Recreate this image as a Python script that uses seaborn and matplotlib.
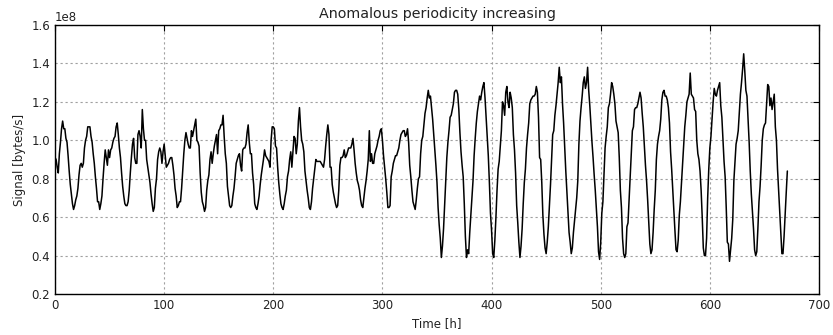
import numpy as np
import pandas as pd
import matplotlib
matplotlib.use("Agg")
import matplotlib.pyplot as plt
import seaborn as sns

# Signal in units of 1e8 bytes/s, one value per hour
signal_first_half = [  # hours 0-335
    0.91, 0.90, 0.86, 0.83, 0.93, 0.99, 1.06, 1.10, 1.06, 1.06,
    1.01, 0.99, 0.92, 0.84, 0.77, 0.72, 0.67, 0.64, 0.66, 0.69,
    0.71, 0.75, 0.82, 0.87, 0.88, 0.86, 0.88, 0.96, 1.00, 1.02,
    1.07, 1.07, 1.07, 1.02, 0.99, 0.93, 0.88, 0.81, 0.75, 0.68,
    0.68, 0.64, 0.67, 0.71, 0.80, 0.88, 0.95, 0.91, 0.87, 0.95,
    0.91, 0.95, 0.96, 0.99, 1.01, 1.02, 1.07, 1.09, 1.03, 0.96,
    0.91, 0.83, 0.76, 0.71, 0.67, 0.66, 0.66, 0.68, 0.74, 0.83,
    0.91, 0.98, 1.01, 0.91, 0.88, 0.88, 1.03, 1.05, 1.02, 0.96,
    1.16, 1.06, 1.00, 1.00, 0.90, 0.86, 0.82, 0.78, 0.72, 0.67,
    0.63, 0.65, 0.75, 0.80, 0.90, 0.94, 0.96, 0.94, 0.88, 0.94,
    0.98, 0.92, 0.86, 0.87, 0.88, 0.90, 0.91, 0.91, 0.87, 0.82,
    0.75, 0.71, 0.65, 0.66, 0.68, 0.68, 0.75, 0.84, 0.93, 1.00,
    1.04, 1.01, 0.98, 0.96, 0.96, 1.05, 1.02, 1.05, 1.08, 1.11,
    1.00, 0.99, 0.97, 0.83, 0.73, 0.68, 0.66, 0.63, 0.65, 0.74,
    0.79, 0.82, 0.90, 0.94, 0.88, 0.93, 0.97, 1.00, 1.03, 0.93,
    1.05, 1.06, 1.08, 1.08, 1.13, 1.02, 0.93, 0.88, 0.76, 0.71,
    0.66, 0.65, 0.66, 0.71, 0.75, 0.81, 0.88, 0.90, 0.92, 0.93,
    0.87, 0.84, 0.95, 0.96, 0.96, 0.98, 1.04, 1.08, 0.99, 0.93,
    0.93, 0.83, 0.77, 0.67, 0.65, 0.64, 0.67, 0.71, 0.77, 0.82,
    0.86, 0.90, 0.95, 0.92, 0.91, 0.90, 0.89, 0.86, 1.00, 1.07,
    1.07, 1.06, 0.97, 0.96, 0.86, 0.78, 0.72, 0.67, 0.65, 0.64,
    0.67, 0.71, 0.74, 0.81, 0.84, 0.90, 0.94, 0.86, 0.94, 1.02,
    1.01, 0.93, 0.98, 1.10, 1.17, 1.07, 1.00, 0.98, 0.94, 0.84,
    0.79, 0.74, 0.70, 0.65, 0.64, 0.68, 0.75, 0.80, 0.85, 0.90,
    0.89, 0.89, 0.89, 0.89, 0.88, 0.87, 0.86, 0.90, 0.97, 1.03,
    1.08, 1.03, 0.86, 0.86, 0.77, 0.73, 0.70, 0.67, 0.65, 0.66,
    0.74, 0.87, 0.91, 0.91, 0.92, 0.95, 0.91, 0.92, 0.94, 0.96,
    0.96, 0.96, 0.98, 1.01, 0.95, 0.88, 0.83, 0.79, 0.77, 0.74,
    0.69, 0.66, 0.65, 0.70, 0.75, 0.79, 0.84, 0.90, 1.05, 0.89,
    0.93, 0.88, 0.88, 0.93, 0.95, 0.97, 1.00, 1.02, 1.05, 1.06,
    1.00, 0.92, 0.86, 0.80, 0.73, 0.65, 0.65, 0.66, 0.81, 0.84,
    0.88, 0.90, 0.92, 0.92, 0.94, 0.96, 1.00, 1.03, 1.04, 1.05,
    1.05, 1.02, 1.03, 1.06, 0.99, 0.87, 0.81, 0.74, 0.68, 0.66,
    0.64, 0.69, 0.75, 0.80, 0.81, 0.93,
]
signal_second_half = [  # hours 336-671
    1.00, 1.02, 1.08, 1.14,
    1.17, 1.22, 1.26, 1.22, 1.23, 1.17, 1.11, 1.03, 0.95, 0.87,
    0.78, 0.65, 0.56, 0.49, 0.39, 0.45, 0.54, 0.66, 0.79, 0.91,
    0.99, 1.05, 1.12, 1.13, 1.16, 1.19, 1.25, 1.26, 1.26, 1.24,
    1.16, 1.04, 0.94, 0.87, 0.81, 0.67, 0.50, 0.39, 0.43, 0.41,
    0.52, 0.61, 0.70, 0.79, 0.92, 1.01, 1.09, 1.15, 1.19, 1.23,
    1.21, 1.25, 1.28, 1.30, 1.22, 1.12, 1.03, 0.92, 0.78, 0.62,
    0.53, 0.41, 0.39, 0.48, 0.60, 0.74, 0.85, 0.89, 0.97, 1.05,
    1.20, 1.18, 1.13, 1.25, 1.28, 1.20, 1.17, 1.25, 1.22, 1.17,
    1.03, 0.95, 0.83, 0.66, 0.57, 0.47, 0.39, 0.45, 0.54, 0.67,
    0.78, 0.85, 0.96, 1.03, 1.09, 1.19, 1.21, 1.22, 1.23, 1.23,
    1.24, 1.28, 1.25, 1.12, 0.91, 0.90, 0.78, 0.61, 0.51, 0.44,
    0.41, 0.47, 0.55, 0.66, 0.77, 0.90, 1.03, 1.05, 1.13, 1.18,
    1.24, 1.30, 1.38, 1.30, 1.33, 1.19, 1.09, 0.96, 0.84, 0.73,
    0.63, 0.52, 0.47, 0.41, 0.44, 0.52, 0.58, 0.64, 0.70, 0.79,
    0.98, 1.10, 1.17, 1.23, 1.30, 1.33, 1.27, 1.30, 1.38, 1.26,
    1.18, 1.08, 0.99, 0.91, 0.82, 0.74, 0.64, 0.55, 0.42, 0.38,
    0.47, 0.62, 0.68, 0.82, 0.96, 1.02, 1.07, 1.17, 1.19, 1.24,
    1.30, 1.28, 1.24, 1.19, 1.10, 1.07, 1.04, 0.91, 0.74, 0.65,
    0.49, 0.41, 0.39, 0.41, 0.55, 0.57, 0.69, 0.80, 0.94, 1.05,
    1.07, 1.16, 1.17, 1.17, 1.19, 1.22, 1.25, 1.22, 1.14, 1.07,
    0.97, 0.87, 0.79, 0.69, 0.57, 0.46, 0.41, 0.43, 0.52, 0.64,
    0.74, 0.90, 0.98, 1.02, 1.05, 1.11, 1.21, 1.25, 1.26, 1.23,
    1.23, 1.21, 1.17, 1.09, 0.94, 0.85, 0.74, 0.63, 0.53, 0.43,
    0.42, 0.48, 0.61, 0.68, 0.78, 0.88, 0.99, 1.07, 1.13, 1.20,
    1.22, 1.24, 1.35, 1.24, 1.23, 1.22, 1.16, 1.15, 1.00, 0.93,
    0.90, 0.84, 0.74, 0.60, 0.44, 0.40, 0.40, 0.49, 0.70, 0.85,
    0.96, 1.02, 1.11, 1.20, 1.27, 1.24, 1.23, 1.26, 1.28, 1.30,
    1.18, 1.12, 1.00, 0.89, 0.81, 0.65, 0.47, 0.46, 0.37, 0.43,
    0.49, 0.59, 0.79, 0.89, 0.98, 1.01, 1.05, 1.15, 1.24, 1.30,
    1.37, 1.45, 1.36, 1.26, 1.23, 1.11, 0.99, 0.84, 0.72, 0.63,
    0.54, 0.43, 0.40, 0.42, 0.54, 0.68, 0.76, 0.87, 1.00, 1.06,
    1.08, 1.09, 1.19, 1.29, 1.28, 1.18, 1.22, 1.16, 1.20, 1.24,
    1.07, 1.00, 0.85, 0.74, 0.64, 0.51, 0.41, 0.41, 0.50, 0.62,
    0.73, 0.84,
]

x_ticks = [0, 100, 200, 300, 400, 500, 600, 700]
y_ticks = [0.2, 0.4, 0.6, 0.8, 1.0, 1.2, 1.4, 1.6]
scale = 1e8

title = "Anomalous periodicity increasing"
x_label = "Time [h]"
y_label = "Signal [bytes/s]"

sns.set_theme(style="white")
plt.rcParams["font.family"] = ["DejaVu Sans"]

values = np.array(signal_first_half + signal_second_half) * scale
hours = np.arange(len(values))
df = pd.DataFrame({"hour": hours, "signal": values})

W, H = 833, 335
fig = plt.figure(figsize=(W / 100, H / 100), dpi=100)
fig.patch.set_facecolor("white")
ax = fig.add_axes([55 / W, 41 / H, 764 / W, 269 / H])

sns.lineplot(data=df, x="hour", y="signal", ax=ax, color="black",
             linewidth=1.1, estimator=None)

ax.set_xlim(0, 700)
ax.set_ylim(0.2 * scale, 1.6 * scale)
ax.set_xticks(x_ticks)
ax.set_yticks([v * scale for v in y_ticks])
ax.grid(True, color="#a0a0a0", linestyle=(0, (2, 2.5)), linewidth=0.8)
ax.set_axisbelow(True)
ax.tick_params(direction="in", top=True, right=True, length=4, width=0.8,
               color="black", labelsize=8.5, labelcolor="#222222")
for s in ax.spines.values():
    s.set_color("black")
    s.set_linewidth(1.0)

ax.set_title(title, fontsize=10.3, color="#222222", pad=5)
ax.set_xlabel(x_label, fontsize=8.5, color="#222222")
ax.set_ylabel(y_label, fontsize=8.5, color="#222222")
ax.yaxis.get_offset_text().set_fontsize(8.5)

fig.savefig("out.png", dpi=100, facecolor="white")
